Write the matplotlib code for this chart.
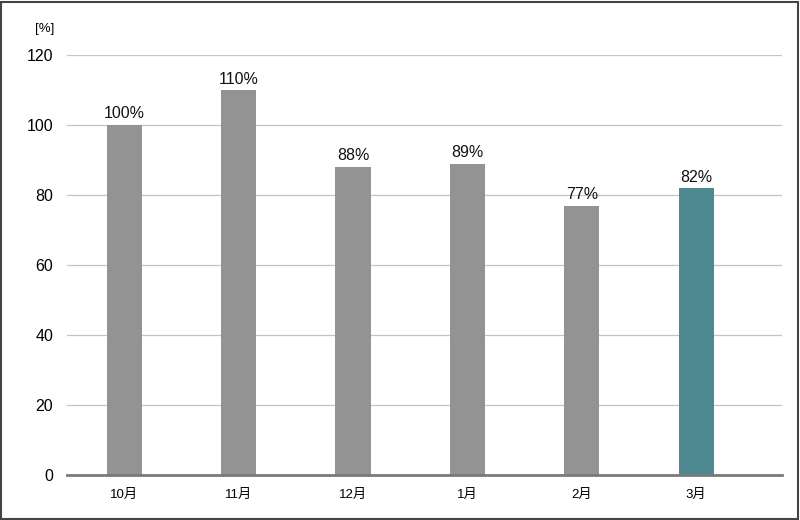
import matplotlib
matplotlib.use("Agg")
import matplotlib.pyplot as plt
from matplotlib.patches import Rectangle

plt.rcParams['font.family'] = ['Liberation Sans', 'Noto Sans CJK JP', 'DejaVu Sans']

months = ['10月', '11月', '12月', '1月', '2月', '3月']
values = [100, 110, 88, 89, 77, 82]
colors = ['#939393'] * 5 + ['#4e8891']
yticks = [0, 20, 40, 60, 80, 100, 120]

fig = plt.figure(figsize=(8, 5.2), dpi=100)
ax = fig.add_axes([67 / 800, 1 - 475 / 520, 715 / 800, 420 / 520])

x = list(range(len(months)))
ax.bar(x, values, width=0.306, color=colors, zorder=3)
for xi, v in zip(x, values):
    ax.text(xi, v + 1.0, f'{v}%', ha='center', va='bottom', fontsize=11.5, color='#111111')

ax.set_xlim(-0.5, 5.75)
ax.set_ylim(0, 120)
ax.set_yticks(yticks)
ax.set_xticks(x)
ax.set_xticklabels(months, fontsize=9.5)
ax.tick_params(axis='y', length=0, labelsize=11.5, pad=10)
ax.tick_params(axis='x', length=0, pad=10)
ax.grid(axis='y', color='#c4c4c4', linewidth=0.9, zorder=0)
for s in ['top', 'right', 'left']:
    ax.spines[s].set_visible(False)
ax.spines['bottom'].set_color('#7a7a7a')
ax.spines['bottom'].set_linewidth(2)
ax.spines['bottom'].set_zorder(4)

fig.text(45 / 800, 1 - 29 / 520, '[%]', ha='center', va='center', fontsize=9.5)
fig.patches.append(Rectangle((0.001, 0.001), 0.997, 0.996, transform=fig.transFigure,
                             fill=False, edgecolor='#444444', linewidth=1.5))

fig.savefig('out.png', dpi=100)
